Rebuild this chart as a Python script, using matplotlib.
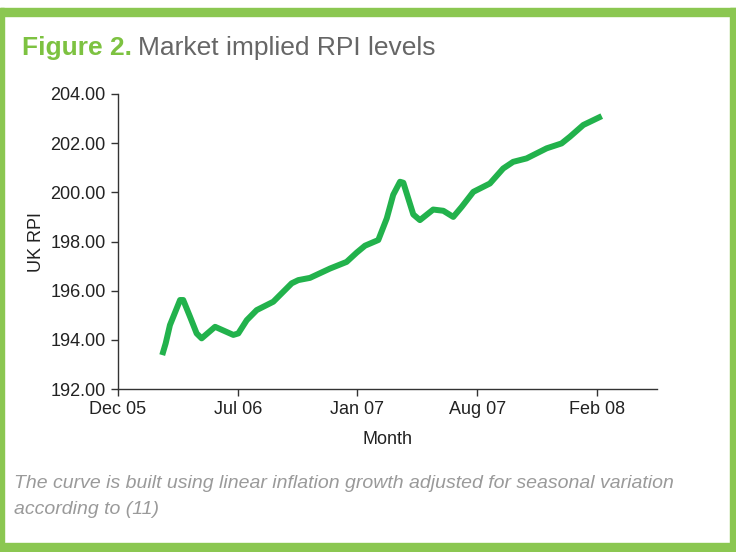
import matplotlib as mpl
mpl.use("Agg")
import matplotlib.pyplot as plt
from matplotlib.patches import Rectangle

# x positions in months after Dec 05 (ticks sit every 6.5 months)
months = [2.40, 2.59, 2.82, 3.37, 3.54, 3.91, 4.27, 4.54, 5.27, 6.26, 6.53,
          6.99, 7.53, 8.43, 9.43, 9.79, 10.42, 11.51, 12.41, 12.96, 13.41,
          14.13, 14.59, 14.94, 15.31, 15.49, 16.03, 16.39, 17.11, 17.66,
          18.20, 18.66, 19.29, 20.19, 20.91, 21.45, 22.18, 23.27, 24.08,
          24.53, 25.26, 26.26]
rpi = [193.38, 193.86, 194.60, 195.62, 195.62, 194.94, 194.26, 194.06,
       194.53, 194.20, 194.26, 194.80, 195.21, 195.55, 196.30, 196.43,
       196.52, 196.90, 197.17, 197.55, 197.83, 198.06, 198.94, 199.90,
       200.43, 200.39, 199.10, 198.87, 199.30, 199.25, 199.00, 199.41,
       200.02, 200.36, 200.97, 201.24, 201.38, 201.79, 201.99, 202.26,
       202.74, 203.10]
tick_pos = [0, 6.5, 13, 19.5, 26]
tick_labels = ["Dec 05", "Jul 06", "Jan 07", "Aug 07", "Feb 08"]
y_ticks = [192, 194, 196, 198, 200, 202, 204]

green_frame = "#8BC751"
plt.rcParams["font.family"] = ["Liberation Sans", "DejaVu Sans"]

fig = plt.figure(figsize=(7.36, 5.52), dpi=100)
W, H = 736, 552

# green frame
fig.patches.append(Rectangle((0, 1 - 16 / H), 1, 8 / H, transform=fig.transFigure,
                             color=green_frame, zorder=0))
fig.patches.append(Rectangle((0, 0), 1, 9 / H, transform=fig.transFigure,
                             color=green_frame, zorder=0))
fig.patches.append(Rectangle((0, 0), 3.5 / W, 1 - 8 / H, transform=fig.transFigure,
                             color=green_frame, zorder=0))
fig.patches.append(Rectangle((1 - 6 / W, 0), 6 / W, 1 - 8 / H, transform=fig.transFigure,
                             color=green_frame, zorder=0))

ax = fig.add_axes([118 / W, 1 - 389 / H, (657 - 118) / W, (389 - 94) / H])
ax.plot(months, rpi, color="#22B24C", lw=4.3, solid_capstyle="butt", solid_joinstyle="round")

ax.set_xlim(0, 29.26)
ax.set_ylim(192, 204)
ax.set_xticks(tick_pos)
ax.set_xticklabels(tick_labels)
ax.set_yticks(y_ticks)
ax.set_yticklabels([f"{v:.2f}" for v in y_ticks])
for s in ["top", "right"]:
    ax.spines[s].set_visible(False)
for s in ["left", "bottom"]:
    ax.spines[s].set_color("#333333")
    ax.spines[s].set_linewidth(1.0)
ax.tick_params(direction="out", length=5, width=1, color="#333333",
               labelsize=13, labelcolor="#222222", pad=4)
ax.set_xlabel("Month", fontsize=13, color="#222222", labelpad=9)
ax.set_ylabel("UK RPI", fontsize=13, color="#222222", labelpad=4)

# title in two colours
t1 = fig.text(22 / W, 1 - 55 / H, "Figure 2.", fontsize=19, fontweight="bold",
              color="#7DC241", va="baseline")
fig.canvas.draw()
bb = t1.get_window_extent()
fig.text((bb.x1 + 6) / W, 1 - 55 / H, "Market implied RPI levels", fontsize=19,
         color="#666666", va="baseline")

# caption
fig.text(14 / W, 1 - 488 / H,
         "The curve is built using linear inflation growth adjusted for seasonal variation",
         fontsize=14, style="italic", color="#9A9A9A", va="baseline")
fig.text(14 / W, 1 - 514 / H, "according to (11)", fontsize=14, style="italic",
         color="#9A9A9A", va="baseline")

fig.savefig("out.png", dpi=100)
